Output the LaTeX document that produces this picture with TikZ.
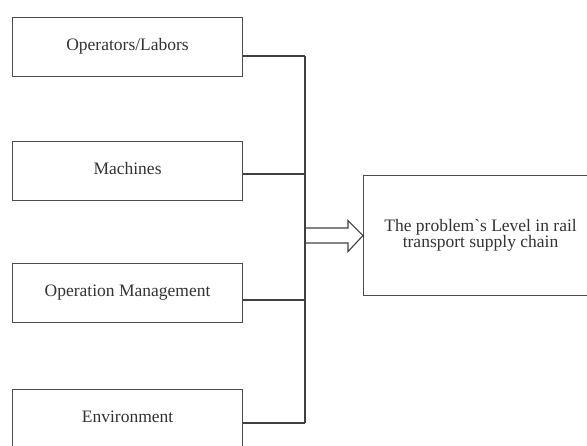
\documentclass[tikz,border=0pt]{standalone}
\usepackage{fontspec}
\setmainfont{Liberation Serif}
\begin{document}
\begin{tikzpicture}[x=1pt,y=-1pt,
  line width=1.1pt,
  factor/.style={draw=black!70, fill=white, minimum width=230pt, minimum height=59pt,
    inner sep=0pt, anchor=north west, text=black!80, text height=12pt, text depth=6pt,
    font=\fontsize{17.5}{18}\selectfont},
  result/.style={draw=black!70, fill=white, minimum width=234pt, minimum height=120pt,
    inner sep=0pt, anchor=north west, text=black!80, align=center,
    font=\fontsize{17.5}{16.5}\selectfont},
  link/.style={draw=black!75}
]
\useasboundingbox (0,0) rectangle (587,446);
\clip (0,0) rectangle (587,446);

% factor boxes
\node[factor] (ops) at (12,17)  {Operators/Labors};
\node[factor] (mac) at (12,141) {Machines};
\node[factor] (mgt) at (12,263) {Operation Management};
\node[factor] (env) at (12,389) {Environment};

% resulting box
\node[result] (res) at (363,175) {The problem\textasciigrave s Level in rail\\transport supply chain};

% bus joints
\coordinate (j1) at (305,56);
\coordinate (j2) at (305,174);
\coordinate (j3) at (305,300);
\coordinate (j4) at (305,423);

\draw[link] (ops.east |- j1) -- (j1);
\draw[link] (mac.east |- j2) -- (j2);
\draw[link] (mgt.east |- j3) -- (j3);
\draw[link] (env.east |- j4) -- (j4);
\draw[link] (j1) -- (j4);

% hollow block arrow into the result box
\coordinate (tip) at (res.west);
\draw[link, line join=miter]
  ([yshift=-7.5pt]tip -| j1) -- ([xshift=-15pt,yshift=-7.5pt]tip)
  -- ([xshift=-15pt,yshift=-16pt]tip) -- (tip)
  -- ([xshift=-15pt,yshift=15pt]tip) -- ([xshift=-15pt,yshift=7.5pt]tip)
  -- ([yshift=7.5pt]tip -| j1);
\end{tikzpicture}
\end{document}
